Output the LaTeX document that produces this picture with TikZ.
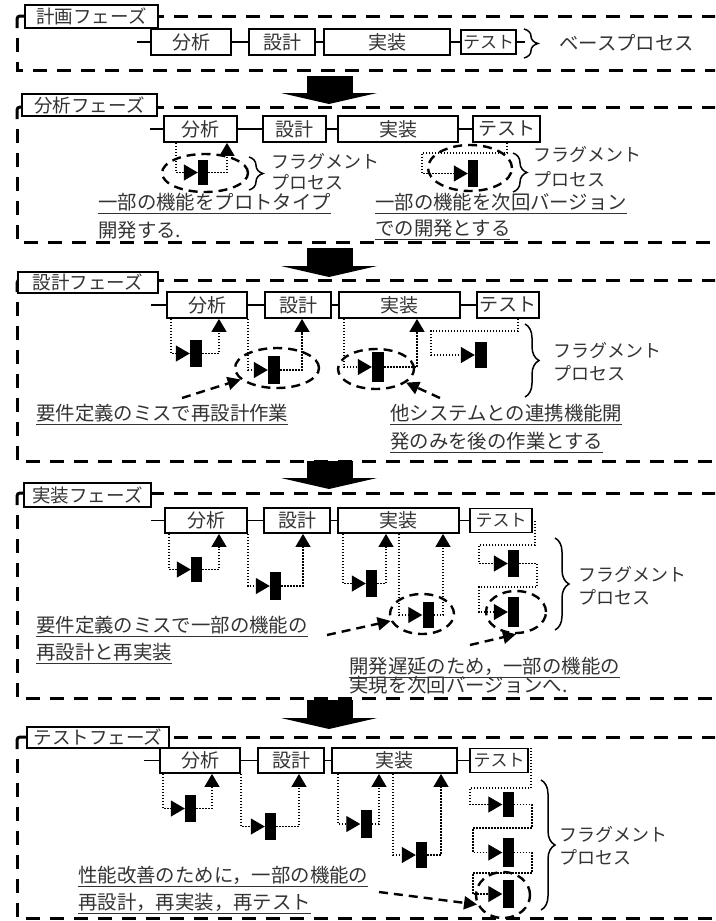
\documentclass[tikz,border=0pt]{standalone}
\usepackage{fontspec}
\setmainfont{Noto Sans CJK JP}
\usetikzlibrary{arrows.meta,decorations.pathreplacing,shapes.geometric,positioning}

\newcommand{\undl}[1]{\setbox0=\hbox{#1}\rlap{\rule[-5pt]{\wd0}{1.2pt}}\box0}

\begin{document}
\begin{tikzpicture}[x=1pt, y=-1pt,
	every node/.style={text=black!80, inner sep=0pt},
	proc/.style={draw=black, line width=1.8pt, minimum height=26, font=\fontsize{19}{22}\selectfont},
	small/.style={font=\fontsize{17}{20}\selectfont, minimum height=24},
	phase/.style={draw=black, line width=2.4pt, fill=white, font=\fontsize{18.5}{22}\selectfont},
	frame/.style={line width=3pt, dash pattern=on 14pt off 10pt},
	link/.style={line width=1.8pt},
	dotline/.style={line width=1.3pt, dash pattern=on 1.4pt off 1.6pt},
	tofrag/.style={dotline, -{Triangle[length=14pt,width=16pt]}},
	toproc/.style={dotline, -{Triangle[length=13pt,width=15pt]}},
	bar/.style={fill=black, minimum width=11, minimum height=26},
	ring/.style={draw=black, ellipse, line width=2.4pt, dash pattern=on 9pt off 6pt},
	pointer/.style={line width=2.4pt, dash pattern=on 9pt off 6pt, -{Triangle[length=13pt,width=13pt]}},
	brc/.style={line width=1.5pt, decorate, decoration={brace, amplitude=14pt}},
	note/.style={anchor=base west, font=\fontsize{19.4}{24}\selectfont},
	frag/.style={anchor=west, align=left, font=\fontsize{18}{23}\selectfont}
	]
	\useasboundingbox (0,0) rectangle (715,921);
	\clip (0,0) rectangle (715,921);
	% dashed frames and block arrows
	\foreach \t/\b in {16/70, 107/242, 280/461, 493/698, 737/918} {
		\draw[frame] (17,\t+22) -- (17,\b) -- (730,\b);
		\draw[frame] (30,\t) -- (730,\t);
		\draw[line width=3pt, rounded corners=3pt] (17,\t+12) -- (17,\t) -- (28,\t);
	}
	\foreach \t/\b in {76/93, 248/266, 461/478, 700/718} {
		\fill (307,\t) rectangle (353,\b);
		\fill (281,\b) -- (377,\b) -- (329,\b+11) -- cycle;
	}

	% planning phase
	\node[phase, minimum width=133, minimum height=23] (P1) at (91.5,16.5) {計画フェーズ};
	\node[proc, minimum width=80] (A1) at (191,42) {分析};
	\node[proc, minimum width=66] (D1) at (282,42) {設計};
	\node[proc, minimum width=126] (I1) at (387,42) {実装};
	\node[proc, small, minimum width=55] (T1) at (488.5,42) {テスト};
	\draw[link] (A1.west) -- ++(-13,0);
	\draw[link] (A1) -- (D1);
	\draw[link] (D1) -- (I1);
	\draw[link] (I1) -- (T1);
	\draw[link] (T1.east) -- ++(8,0);
	\draw[brc] (524,29) -- (524,58);
	\node[note] (B1) at (559,50) {ベースプロセス};

	% analysis phase
	\node[phase, minimum width=135, minimum height=22] (P2) at (89.5,105) {分析フェーズ};
	\node[proc, minimum width=73] (A2) at (200.5,129) {分析};
	\node[proc, minimum width=63] (D2) at (294.5,129) {設計};
	\node[proc, minimum width=120] (I2) at (398,129) {実装};
	\node[proc, minimum width=67] (T2) at (506.5,129) {テスト};
	\draw[link] (A2.west) -- ++(-13,0);
	\draw[link] (A2) -- (D2);
	\draw[link] (D2) -- (I2);
	\draw[link] (I2) -- (T2);
	\node[bar, minimum width=10, minimum height=25] (F21) at (203,172.5) {};
	\draw[tofrag] (176,0 |- A2.south) |- (F21);
	\draw[toproc] (F21.east) -| (227,0 |- A2.south);
	\node[ring, minimum width=86, minimum height=38] (E21) at (205,173) {};
	\draw[brc] (249,157) -- (249,190);
	\node[frag, font=\fontsize{18}{21}\selectfont] (L21) at (271,172) {フラグメント\\プロセス};
	\node[bar, minimum width=10, minimum height=27] (F22) at (473,173.5) {};
	\draw[tofrag] (507,0 |- T2.south) |- (422,153) |- (F22);
	\node[ring, minimum width=84, minimum height=46] (E22) at (470,168) {};
	\draw[brc] (513,153) -- (513,192);
	\node[frag, font=\fontsize{18}{25}\selectfont] (L22) at (533,167) {フラグメント\\プロセス};
	\node[note] (N21) at (98,209) {\undl{一部の機能をプロトタイプ}};
	\node[note] (N22) at (98,237) {開発する.};
	\node[note] (N23) at (375,209) {\undl{一部の機能を次回バージョン}};
	\node[note] (N24) at (375,235) {\undl{での開発とする}};

	% design phase
	\node[phase, minimum width=140, minimum height=21] (P3) at (88,282.5) {設計フェーズ};
	\node[proc, minimum width=80] (A3) at (207,305) {分析};
	\node[proc, minimum width=66] (D3) at (298,305) {設計};
	\node[proc, minimum width=121] (I3) at (399.5,305) {実装};
	\node[proc, minimum width=62] (T3) at (508,305) {テスト};
	\draw[link] (A3.west) -- ++(-15,0);
	\draw[link] (A3) -- (D3);
	\draw[link] (D3) -- (I3);
	\draw[link] (I3) -- (T3);
	\node[bar, minimum width=12, minimum height=27] (F31) at (196,353.5) {};
	\draw[tofrag] (171,0 |- A3.south) |- (F31);
	\draw[toproc] (F31.east) -| (219,0 |- A3.south);
	\node[bar, minimum width=12, minimum height=28] (F32) at (274,370) {};
	\draw[tofrag] (A3.south east) |- (F32);
	\draw[toproc] (F32.east) -| (302,0 |- D3.south);
	\node[ring, minimum width=84, minimum height=40] (E32) at (277,368) {};
	\node[bar, minimum width=12, minimum height=30] (F33) at (378,367) {};
	\draw[tofrag] (344,0 |- I3.south) |- (F33);
	\draw[toproc] (F33.east) -| (417,0 |- I3.south);
	\node[ring, minimum width=76, minimum height=40] (E33) at (376,369) {};
	\node[bar, minimum width=12, minimum height=26] (F34) at (481,355) {};
	\draw[tofrag] (518,0 |- T3.south) |- (431,331) |- (F34);
	\draw[brc] (525,324) -- (525,397);
	\node[frag] (L3) at (553,362) {フラグメント\\プロセス};
	\node[note] (N31) at (36,420) {\undl{要件定義のミスで再設計作業}};
	\node[note] (N32) at (390,420) {\undl{他システムとの連携機能開}};
	\node[note] (N33) at (390,448) {\undl{発のみを後の作業とする}};
	\coordinate (c31) at (182,398);
	\coordinate (c32) at (440,398);
	\draw[pointer] (c31) -- (E32);
	\draw[pointer] (c32) -- (E33);

	% implementation phase
	\node[phase, minimum width=127, minimum height=24] (P4) at (87.5,495) {実装フェーズ};
	\node[proc, minimum width=82, minimum height=25] (A4) at (206,520.5) {分析};
	\node[proc, minimum width=66, minimum height=25] (D4) at (297,520.5) {設計};
	\node[proc, minimum width=121, minimum height=25] (I4) at (398.5,520.5) {実装};
	\node[proc, small, minimum width=62] (T4) at (501,520.5) {テスト};
	\draw[link] (A4.west) -- ++(-13,0);
	\draw[link] (A4) -- (D4);
	\draw[link] (D4) -- (I4);
	\draw[link] (I4) -- (T4);
	\node[bar, minimum height=25] (F41) at (196.5,569.5) {};
	\draw[tofrag] (169,0 |- A4.south) |- (F41);
	\draw[toproc] (F41.east) -| (219,0 |- A4.south);
	\node[bar, minimum height=28] (F42) at (275.5,586) {};
	\draw[tofrag] (A4.south east) |- (F42);
	\draw[toproc] (F42.east) -| (303,0 |- D4.south);
	\node[bar, minimum height=27] (F43) at (371.5,583.5) {};
	\draw[tofrag] (343,0 |- I4.south) |- (F43);
	\draw[toproc] (F43.east) -| (386,0 |- I4.south);
	\node[bar, minimum height=26] (F44) at (428,615) {};
	\draw[tofrag] (399,0 |- I4.south) |- (F44);
	\draw[toproc] (F44.east) -| (443,0 |- I4.south);
	\node[ring, minimum width=64, minimum height=40] (E44) at (422,614) {};
	\node[bar, minimum height=27] (F45) at (513.5,563.5) {};
	\draw[tofrag] ([xshift=2pt]T4.east) |- (479,545) |- (F45);
	\node[bar, minimum height=30] (F46) at (513.5,612) {};
	\draw[tofrag] (F45.east) -| (537,587) -| (479,0 |- F46.west) -- (F46.west);
	\node[ring, minimum width=60, minimum height=42] (E46) at (516,612) {};
	\draw[brc] (555,538) -- (555,630);
	\node[frag] (L4) at (578,586) {フラグメント\\プロセス};
	\node[note] (N41) at (36,632) {\undl{要件定義のミスで一部の機能の}};
	\node[note] (N42) at (36,659) {\undl{再設計と再実装}};
	\node[note] (N43) at (349,673) {\undl{開発遅延のため，一部の機能の}};
	\node[note] (N44) at (349,692) {実現を次回バージョンへ.};
	\coordinate (c41) at (327,635);
	\coordinate (c42) at (470,645);
	\draw[pointer] (c41) -- (E44);
	\draw[pointer] (c42) -- (E46.south);

	% test phase
	\node[phase, minimum width=142, minimum height=21] (P5) at (98,737.5) {テストフェーズ};
	\node[proc, minimum width=80, minimum height=25] (A5) at (200,760.5) {分析};
	\node[proc, minimum width=66, minimum height=25] (D5) at (291,760.5) {設計};
	\node[proc, minimum width=125, minimum height=25] (I5) at (394.5,760.5) {実装};
	\node[proc, small, minimum width=58] (T5) at (499,760.5) {テスト};
	\draw[link] (A5.west) -- ++(-15,0);
	\draw[link] (A5) -- (D5);
	\draw[link] (D5) -- (I5);
	\draw[link] (I5) -- (T5);
	\node[bar, minimum height=27] (F51) at (190.5,808.5) {};
	\draw[tofrag] (163,0 |- A5.south) |- (F51);
	\draw[toproc] (F51.east) -| (212,0 |- A5.south);
	\node[bar, minimum height=27] (F52) at (270.5,826.5) {};
	\draw[tofrag] (A5.south east) |- (F52);
	\draw[toproc] (F52.east) -| (299,0 |- D5.south);
	\node[bar, minimum height=28] (F53) at (366,824) {};
	\draw[tofrag] (338,0 |- I5.south) |- (F53);
	\draw[toproc] (F53.east) -| (379,0 |- I5.south);
	\node[bar, minimum height=26] (F54) at (421.5,855) {};
	\draw[tofrag] (393,0 |- I5.south) |- (F54);
	\draw[toproc] (F54.east) -| (441,0 |- I5.south);
	\node[bar, minimum height=25] (F55) at (508,804.5) {};
	\draw[tofrag] ([xshift=2pt]T5.north east) |- (470,788) |- (F55);
	\node[bar, minimum height=29] (F56) at (508,852.5) {};
	\draw[tofrag] (F55.east) -| (532,828) -| (473,0 |- F56.west) -- (F56.west);
	\node[bar, minimum height=28] (F57) at (508,894) {};
	\draw[tofrag] (F56.east) -| (532,873) -| (473,0 |- F57.west) -- (F57.west);
	\node[ring, minimum width=54, minimum height=46] (E57) at (503,895) {};
	\draw[brc] (541,780) -- (541,910);
	\node[frag] (L5) at (559,846) {フラグメント\\プロセス};
	\node[note] (N51) at (78,882) {\undl{性能改善のために，一部の機能の}};
	\node[note] (N52) at (78,909) {\undl{再設計，再実装，再テスト}};
	\coordinate (c51) at (379,892);
	\draw[pointer] (c51) -- (E57.200);
\end{tikzpicture}
\end{document}
